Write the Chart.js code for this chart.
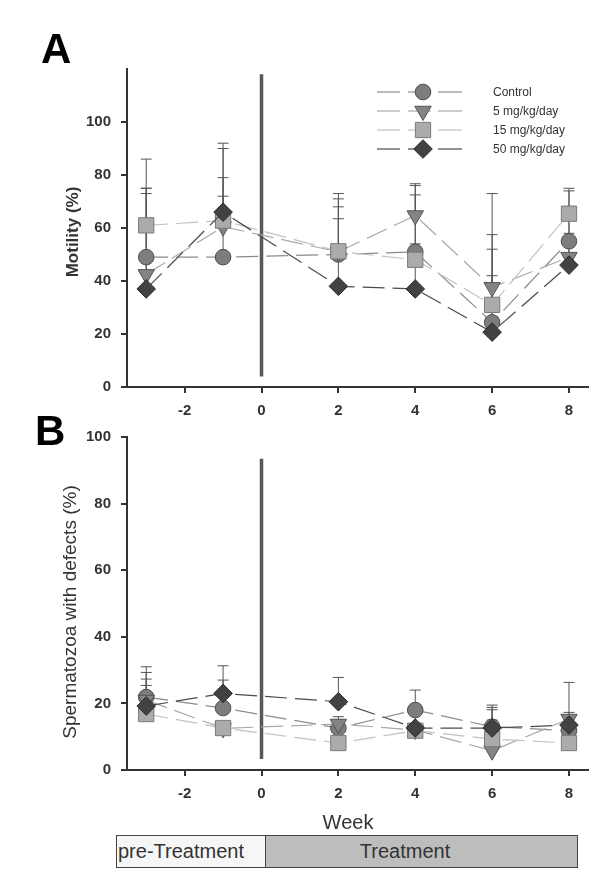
<!DOCTYPE html>
<html>
<head>
<meta charset="utf-8">
<script src="https://cdn.jsdelivr.net/npm/chart.js@4/dist/chart.umd.min.js"></script>
<style>
  html,body{margin:0;padding:0;background:#fff;}
  body{width:600px;height:876px;position:relative;overflow:hidden;font-family:"Liberation Sans",Arial,sans-serif;color:#333;}
  #ca{position:absolute;left:0;top:0;}
  #cb{position:absolute;left:0;top:400px;}
  #week{position:absolute;left:348px;top:810px;transform:translateX(-50%);font-size:20px;line-height:24px;color:#333;}
  #bar{position:absolute;left:116px;top:835px;width:460px;height:31px;border:1.5px solid #444;background:#bdbdbd;}
  #pre{position:absolute;left:0;top:0;width:148px;height:31px;background:#f6f6f6;border-right:1.5px solid #444;}
  #pretxt{position:absolute;left:1px;top:3px;font-size:20px;line-height:24px;color:#333;white-space:nowrap;}
  #trtxt{position:absolute;left:288px;top:3px;transform:translateX(-50%);font-size:20px;line-height:24px;color:#333;white-space:nowrap;}
</style>
</head>
<body>
<canvas id="ca" width="600" height="420"></canvas>
<canvas id="cb" width="600" height="476"></canvas>
<div id="week">Week</div>
<div id="bar"><div id="pre"><span id="pretxt">pre-Treatment</span></div><span id="trtxt">Treatment</span></div>
<script>
// ---------- DATA ----------
const weeks = [-3, -1, 2, 4, 6, 8];
const xTickValues = [-2, 0, 2, 4, 6, 8];
const seriesNames = ['Control', '5 mg/kg/day', '15 mg/kg/day', '50 mg/kg/day'];

// Panel A: Motility (%) means and upper error (SD)
const motControl = [49, 49, 50, 51, 24.4, 55];
const mot5 = [42.5, 60.5, 51, 64.7, 37.6, 49];
const mot15 = [61, 62.8, 51.2, 48, 31, 65.4];
const mot50 = [37, 66, 38, 37, 20.7, 46];
const motControlErr = [26, 30, 23, 21.5, 48.6, 20];
const mot5Err = [30.5, 11.5, 17, 12, 4.4, 18];
const mot15Err = [25, 27.2, 19.8, 28, 21, 8.6];
const mot50Err = [38, 26, 25.5, 17, 36.8, 12];

// Panel B: Spermatozoa with defects (%)
const defControl = [21.9, 18.6, 12.6, 18, 13, 11.8];
const def5 = [21, 12.5, 13.8, 12, 5.8, 15.3];
const def15 = [16.8, 12.6, 8.1, 11.8, 9.3, 8.1];
const def50 = [19.2, 23, 20.5, 12.6, 12.6, 13.5];
const defControlErr = [5.4, 8.4, 2.4, 6, 6.5, 2.2];
const def5Err = [8.3, 1.5, 2.2, 2, 13, 2];
const def15Err = [8.6, 1.4, 1.9, 1.2, 8.8, 2.9];
const def50Err = [11.8, 8.3, 7.3, 5.4, 2.4, 12.8];

// ---------- STYLES ----------
const styles = [
  {line:'#8c8c8c', bg:'#7d7d7d', bd:'#4e4e4e', ps:'circle', r:7.8, rot:0, order:4},
  {line:'#a9a9a9', bg:'#848484', bd:'#555555', ps:'triangle', r:9.5, rot:180, order:3},
  {line:'#c2c2c2', bg:'#ababab', bd:'#7a7a7a', ps:'rect', r:10.8, rot:0, order:2},
  {line:'#4c4c4c', bg:'#424242', bd:'#2a2a2a', ps:'rectRot', r:9.3, rot:0, order:1}
];
const FONT = '"Liberation Sans", Arial, sans-serif';

function makeDatasets(means, errs) {
  return means.map((m, k) => {
    const s = styles[k];
    return {
      label: seriesNames[k],
      data: weeks.map((w, i) => ({x: w, y: m[i]})),
      errors: errs[k],
      borderColor: s.line,
      borderWidth: 1.2,
      borderDash: [22, 8],
      backgroundColor: s.bg,
      pointStyle: s.ps,
      pointRadius: s.r,
      pointHoverRadius: s.r,
      pointRotation: s.rot,
      pointBackgroundColor: s.bg,
      pointBorderColor: s.bd,
      pointBorderWidth: 1,
      fill: false,
      tension: 0,
      order: s.order
    };
  });
}

// ---------- PLUGINS ----------
const errorBars = {
  id: 'errorBars',
  beforeDatasetsDraw(chart) {
    const ctx = chart.ctx, ys = chart.scales.y;
    ctx.save();
    ctx.strokeStyle = '#555';
    ctx.lineWidth = 1;
    chart.data.datasets.forEach((ds, i) => {
      const meta = chart.getDatasetMeta(i);
      meta.data.forEach((pt, j) => {
        const top = ys.getPixelForValue(ds.data[j].y + ds.errors[j]);
        ctx.beginPath();
        ctx.moveTo(pt.x, pt.y);
        ctx.lineTo(pt.x, top);
        ctx.moveTo(pt.x - 5.5, top);
        ctx.lineTo(pt.x + 5.5, top);
        ctx.stroke();
      });
    });
    ctx.restore();
  }
};

const annot = {
  id: 'annot',
  beforeDatasetsDraw(chart, args, opts) {
    const ctx = chart.ctx, xs = chart.scales.x, ys = chart.scales.y;
    if (opts.divider) {
      const x = xs.getPixelForValue(0);
      ctx.save();
      ctx.strokeStyle = '#585858';
      ctx.lineWidth = 3.5;
      ctx.beginPath();
      ctx.moveTo(x, ys.getPixelForValue(opts.divider[1]));
      ctx.lineTo(x, ys.getPixelForValue(opts.divider[0]));
      ctx.stroke();
      ctx.restore();
    }
  },
  afterDraw(chart, args, opts) {
    const ctx = chart.ctx;
    ctx.save();
    if (opts.letter) {
      ctx.fillStyle = '#000';
      ctx.font = 'bold 42px ' + FONT;
      ctx.textAlign = 'left';
      ctx.textBaseline = 'alphabetic';
      ctx.fillText(opts.letter.text, opts.letter.x, opts.letter.y);
    }
    if (opts.yTitle) {
      const t = opts.yTitle;
      ctx.translate(t.x, t.y);
      ctx.rotate(-Math.PI / 2);
      ctx.fillStyle = '#333';
      ctx.font = t.font;
      ctx.textAlign = 'center';
      ctx.textBaseline = 'middle';
      ctx.fillText(t.text, 0, 0);
      ctx.setTransform(1, 0, 0, 1, 0, 0);
    }
    if (opts.legend) {
      const rows = [92, 111, 130, 149];
      chart.data.datasets.forEach((ds, i) => {
        const y = rows[i], s = styles[i];
        ctx.strokeStyle = s.line;
        ctx.lineWidth = 1.2;
        ctx.setLineDash([]);
        [[377, 400], [408, 431], [438, 462]].forEach(seg => {
          ctx.beginPath();
          ctx.moveTo(seg[0], y);
          ctx.lineTo(seg[1], y);
          ctx.stroke();
        });
        ctx.fillStyle = s.bg;
        ctx.strokeStyle = s.bd;
        ctx.lineWidth = 1;
        Chart.helpers.drawPoint(ctx, {pointStyle: s.ps, radius: s.r, rotation: s.rot, borderWidth: 1}, 423, y);
        ctx.fillStyle = '#333';
        ctx.font = '12px ' + FONT;
        ctx.textAlign = 'left';
        ctx.textBaseline = 'middle';
        ctx.fillText(ds.label, 493, y + 1);
      });
    }
    ctx.restore();
  }
};

function axisCommon() {
  return {
    border: {display: true, color: '#333', width: 2},
    grid: {display: true, drawOnChartArea: false, drawTicks: true, tickLength: 6, color: '#333', lineWidth: 2},
  };
}

function makeChart(canvasId, means, errs, yMax, pad, xHeight, annotOpts) {
  return new Chart(document.getElementById(canvasId), {
    type: 'line',
    data: {datasets: makeDatasets(means, errs)},
    options: {
      responsive: false,
      animation: false,
      devicePixelRatio: 1,
      events: [],
      layout: {padding: pad},
      plugins: {legend: {display: false}, tooltip: {enabled: false}, title: {display: false}, annot: annotOpts},
      scales: {
        x: Object.assign(axisCommon(), {
          type: 'linear', min: -3.5, max: 8.5,
          afterBuildTicks: s => { s.ticks = xTickValues.map(v => ({value: v})); },
          afterFit: s => { s.height = xHeight; },
          ticks: {color: '#333', font: {family: FONT, weight: 'bold', size: 15}, padding: 9, maxRotation: 0, autoSkip: false}
        }),
        y: Object.assign(axisCommon(), {
          type: 'linear', min: 0, max: yMax,
          afterBuildTicks: s => { s.ticks = s.ticks.filter(t => t.value <= 100); },
          afterFit: s => { s.width = 127; },
          ticks: {stepSize: 20, color: '#333', font: {family: FONT, weight: 'bold', size: 15}, padding: 10}
        })
      }
    },
    plugins: [errorBars, annot]
  });
}

makeChart('ca',
  [motControl, mot5, mot15, mot50],
  [motControlErr, mot5Err, mot15Err, mot50Err],
  120, {top: 69, right: 7, left: 0, bottom: 0}, 33,
  {divider: [4, 118], legend: true,
   letter: {text: 'A', x: 41, y: 63},
   yTitle: {text: 'Motility (%)', x: 73, y: 232, font: 'bold 17px ' + FONT}});

makeChart('cb',
  [defControl, def5, def15, def50],
  [defControlErr, def5Err, def15Err, def50Err],
  100, {top: 37, right: 7, left: 0, bottom: 0}, 106,
  {divider: [3.3, 93.5], legend: false,
   letter: {text: 'B', x: 35, y: 45},
   yTitle: {text: 'Spermatozoa with defects (%)', x: 71, y: 212, font: '19px ' + FONT}});
</script>
</body>
</html>
